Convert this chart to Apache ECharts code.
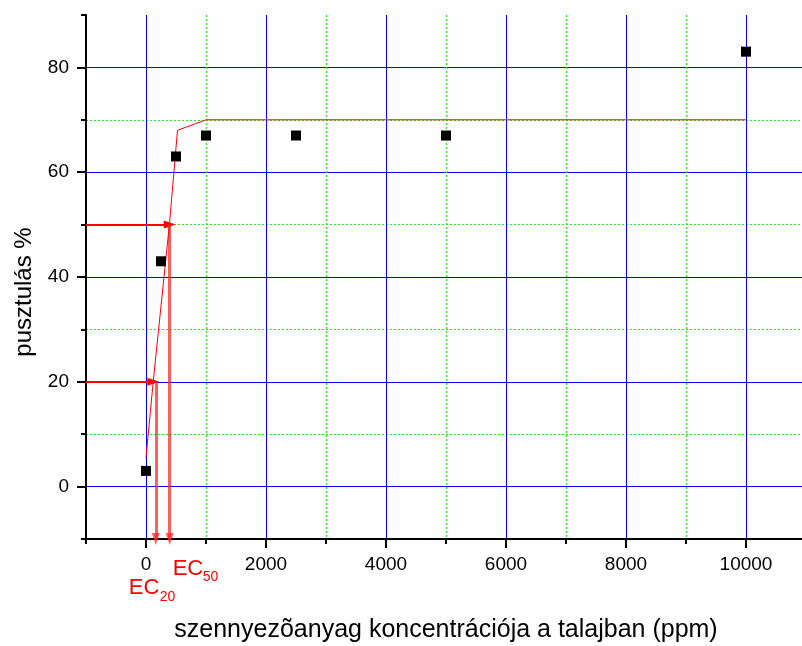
<!DOCTYPE html>
<html>
<head>
<meta charset="utf-8">
<script src="https://cdn.jsdelivr.net/npm/echarts@6/dist/echarts.min.js"></script>
<style>
html,body{margin:0;padding:0;background:#fff;}
#c{width:802px;height:646px;}
</style>
</head>
<body>
<div id="c"></div>
<script>
// ---- data ----
const concentration = [0, 250, 500, 1000, 2500, 5000, 10000];
const mortality = [3, 43, 63, 67, 67, 67, 83];
const fitX = [0, 120, 390, 525, 1000, 10000];
const fitY = [5.5, 20, 50, 68, 70, 70];
const ecLevels = [20, 50];          // % level of the horizontal arrows
const ecArrowEndX = [122, 395];     // where the horizontal arrows end
const ecValues = [163, 395];        // EC20, EC50 (vertical arrows)
const ecSubs = ['20', '50'];
const xRange = [-1000, 11000];
const yRange = [-10, 90];
const xMajorTicks = [0, 2000, 4000, 6000, 8000, 10000];
const xMinorTicks = [-1000, 1000, 3000, 5000, 7000, 9000, 11000];
const yMajorTicks = [0, 20, 40, 60, 80];
const yMinorTicks = [-10, 10, 30, 50, 70, 90];
const xTitle = 'szennyezõanyag koncentrációja a talajban (ppm)';
const yTitle = 'pusztulás %';

const FONT = '"Liberation Sans", Arial, Helvetica, sans-serif';
const chart = echarts.init(document.getElementById('c'), null, {renderer: 'canvas'});

const points = concentration.map((x, i) => [x, mortality[i]]);
const fit = fitX.map((x, i) => [x, fitY[i]]);

const arrowLines = [];
ecLevels.forEach((lv, i) => {
  arrowLines.push([
    {coord: [xRange[0], lv], lineStyle: {color: '#ff0000', width: 2, type: 'solid'}},
    {coord: [ecArrowEndX[i], lv]}
  ]);
  arrowLines.push([
    {coord: [ecValues[i], lv], lineStyle: {color: 'rgba(255,40,40,0.75)', width: 3, type: 'solid'}},
    {coord: [ecValues[i], yRange[0]]}
  ]);
});

function majorAxis(ticks, margin) {
  return {
    type: 'value',
    axisLine: {show: true, onZero: false, lineStyle: {color: '#000', width: 2}},
    axisTick: {show: true, inside: false, length: 9, customValues: ticks, lineStyle: {color: '#000', width: 2}},
    axisLabel: {show: true, color: '#000', fontSize: 19, fontFamily: FONT, margin: margin,
                customValues: ticks, formatter: v => String(v)},
    splitLine: {show: true, lineStyle: {color: '#0000ff', width: 1, type: 'solid', opacity: 1}},
    minorTick: {show: false},
    minorSplitLine: {show: false}
  };
}
function minorAxis(ticks) {
  return {
    type: 'value',
    axisLine: {show: false, onZero: false},
    axisTick: {show: true, inside: false, length: 5, customValues: ticks, lineStyle: {color: '#000', width: 2}},
    axisLabel: {show: false},
    splitLine: {show: true, showMinLine: false, showMaxLine: false,
                lineStyle: {color: '#22ee22', width: 1, type: [2, 2], opacity: 1}},
    minorTick: {show: false},
    minorSplitLine: {show: false}
  };
}

chart.setOption({
  animation: false,
  backgroundColor: '#fff',
  textStyle: {fontFamily: FONT},
  grid: {left: 86, top: 15, width: 720, height: 524, containLabel: false, outerBoundsMode: 'none', show: false},
  xAxis: [
    Object.assign(minorAxis(xMinorTicks), {position: 'bottom', min: xRange[0], max: xRange[1]}),
    Object.assign(majorAxis(xMajorTicks, 16), {
      position: 'bottom', min: xRange[0], max: xRange[1],
      name: xTitle, nameLocation: 'middle', nameGap: 79,
      nameTextStyle: {color: '#000', fontSize: 25, fontFamily: FONT}
    })
  ],
  yAxis: [
    Object.assign(minorAxis(yMinorTicks), {position: 'left', min: yRange[0], max: yRange[1]}),
    Object.assign(majorAxis(yMajorTicks, 17), {
      position: 'left', min: yRange[0], max: yRange[1],
      name: yTitle, nameLocation: 'middle', nameGap: 50, nameRotate: 90,
      nameTextStyle: {color: '#000', fontSize: 24, fontFamily: FONT, padding: [0, 30, 0, 0]}
    })
  ],
  series: [
    {
      type: 'line', xAxisIndex: 1, yAxisIndex: 1, data: fit, showSymbol: false, symbol: 'none',
      lineStyle: {color: '#ff0000', width: 1}, z: 5, silent: true,
      markLine: {
        silent: true, symbol: ['none', 'triangle'], symbolSize: [8, 12],
        label: {show: false}, animation: false,
        data: arrowLines
      }
    },
    {
      type: 'scatter', xAxisIndex: 1, yAxisIndex: 1, data: points, symbol: 'rect', symbolSize: 10,
      itemStyle: {color: '#000', opacity: 1, borderWidth: 0}, z: 6, silent: true
    }
  ]
});

// EC labels placed under their vertical arrows
const ecLayout = [
  {ecDx: -27, ecY: 588, subDx: 4, subY: 597},
  {ecDx: 3, ecY: 569, subDx: 33, subY: 577}
];
const graphics = [];
ecValues.forEach((v, i) => {
  const px = chart.convertToPixel({xAxisIndex: 1}, v);
  const L = ecLayout[i];
  graphics.push({type: 'text', x: px + L.ecDx, y: L.ecY, style: {text: 'EC', fill: '#ff0000', font: '22px ' + FONT, textAlign: 'left', textVerticalAlign: 'middle'}});
  graphics.push({type: 'text', x: px + L.subDx, y: L.subY, style: {text: ecSubs[i], fill: '#ff0000', font: '14px ' + FONT, textAlign: 'left', textVerticalAlign: 'middle'}});
});
chart.setOption({graphic: graphics});
</script>
</body>
</html>
